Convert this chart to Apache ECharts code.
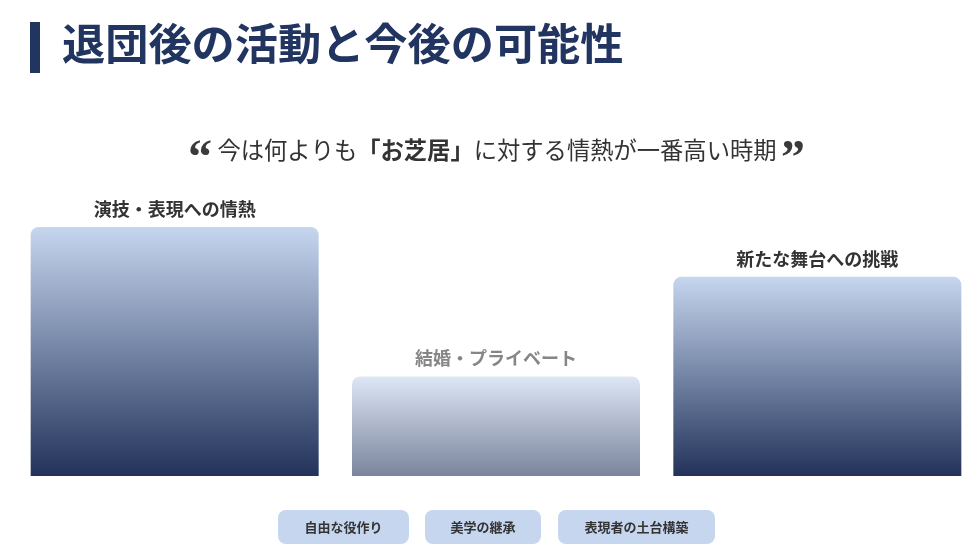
<!DOCTYPE html>
<html><head><meta charset="utf-8">
<script src="https://cdn.jsdelivr.net/npm/echarts@6/dist/echarts.min.js"></script>
<style>html,body{margin:0;padding:0;background:#fff}#c{width:978px;height:556px}</style>
</head><body><div id="c"></div>
<script>
const titleText = '退団後の活動と今後の可能性';
const categories = ['演技・表現への情熱', '結婚・プライベート', '新たな舞台への挑戦'];
const values = [100, 40, 80];
const dimmed = [false, true, false];
const tags = ['自由な役作り', '美学の継承', '表現者の土台構築'];

const FONT = '"Noto Sans CJK JP", "Noto Sans", sans-serif';
const chart = echarts.init(document.getElementById('c'), null, {renderer: 'canvas'});

const grad = new echarts.graphic.LinearGradient(0, 0, 0, 1, [
  {offset: 0, color: '#c6d6ef'},
  {offset: 1, color: '#22325a'}
]);

const tagBoxes = [
  {x: 278, w: 131},
  {x: 425, w: 116},
  {x: 558, w: 157}
];
const tagGraphics = tags.map((t, i) => ({
  type: 'group',
  left: tagBoxes[i].x, top: 510,
  children: [
    {type: 'rect', shape: {x: 0, y: 0, width: tagBoxes[i].w, height: 34, r: 8}, style: {fill: '#c6d6ef'}},
    {type: 'text', x: tagBoxes[i].w / 2, y: 17, style: {text: t, fill: '#333', font: 'bold 13px ' + FONT, align: 'center', verticalAlign: 'middle'}}
  ]
}));

chart.setOption({
  animation: false,
  grid: {left: 14, width: 966, top: 227, bottom: 80, containLabel: false},
  xAxis: {type: 'category', data: categories, show: false},
  yAxis: {type: 'value', min: 0, max: 100, show: false},
  graphic: [
    {type: 'rect', left: 30, top: 22, shape: {width: 10, height: 51}, style: {fill: '#213560'}},
    {type: 'text', left: 62, top: 22, style: {text: titleText, fill: '#213560', font: 'bold 43.2px ' + FONT}},
    {
      type: 'text', x: 497, y: 150,
      style: {
        text: '今は何よりも{b|「お芝居」}に対する情熱が一番高い時期',
        fill: '#333', font: '23.3px ' + FONT, align: 'center', verticalAlign: 'middle',
        rich: {
          b: {fontFamily: FONT, fontWeight: 'bold', fontSize: 23.3, color: '#333'}
        }
      }
    },
    {type: 'text', x: 200, y: 161, style: {text: '“', fill: '#3a3a3a', font: 'bold 48px "Liberation Serif"', align: 'center', verticalAlign: 'middle'}},
    {type: 'text', x: 793, y: 161, style: {text: '”', fill: '#3a3a3a', font: 'bold 48px "Liberation Serif"', align: 'center', verticalAlign: 'middle'}}
  ].concat(tagGraphics),
  series: [{
    type: 'bar',
    barWidth: 288,
    data: values.map((v, i) => ({
      value: v,
      itemStyle: {color: grad, borderRadius: [8, 8, 0, 0], opacity: dimmed[i] ? 0.6 : 1},
      label: {color: dimmed[i] ? '#868686' : '#333', opacity: 1}
    })),
    label: {
      show: true, position: 'top', distance: 9,
      formatter: p => p.name,
      fontFamily: FONT, fontWeight: 'bold', fontSize: 18
    }
  }]
});
</script></body></html>
